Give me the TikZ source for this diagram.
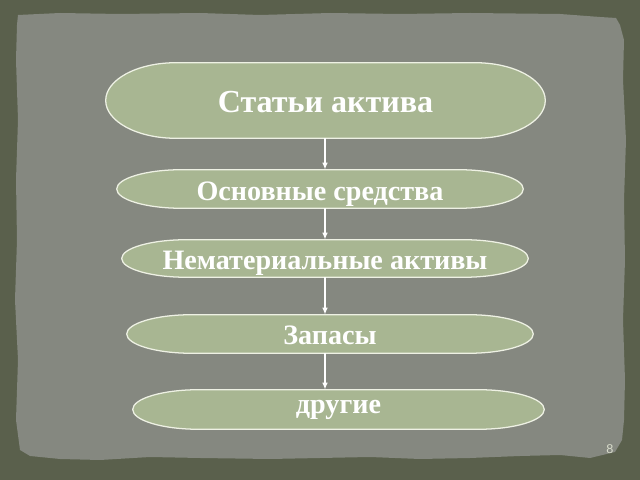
\documentclass[tikz,border=0pt]{standalone}
\usepackage{fontspec}
\setmainfont{Liberation Serif}
\setsansfont{Liberation Sans}
\usetikzlibrary{backgrounds,calc,arrows.meta}
\definecolor{frameolive}{HTML}{5A604C}
\definecolor{panelgrey}{HTML}{858880}
\definecolor{termfill}{HTML}{A8B692}
\definecolor{termedge}{HTML}{EEF1E4}
\definecolor{pagegrey}{HTML}{D8DCCB}
\tikzset{
  term/.style={minimum width=#1*0.025cm, inner sep=0pt, text=white, text depth=0pt,
    font=\bfseries\fontsize{20}{24}\selectfont},
  termline/.style={fill=termfill, draw=termedge, line width=0.9pt},
  link/.style={draw=white, line width=1pt, -{Latex[length=5pt,width=4pt,fill=white]}}
}

\begin{document}
\begin{tikzpicture}[x=0.025cm,y=0.025cm]
\useasboundingbox (0,0) rectangle (640,480);
%\draw[help lines,step=20] (0,0) grid (640,480);
\node (stat) [term=439, minimum height=75*0.025cm, font=\bfseries\fontsize{22.8}{27}\selectfont] at (325.5,379.5) {\raisebox{-2.5pt}{Статьи актива}};
\node (osn) [term=406, minimum height=38*0.025cm] at (320,291) {\raisebox{-3pt}{Основные средства}};
\node (nem) [term=406, minimum height=37*0.025cm] at (325,221.5) {\raisebox{-2.5pt}{Нематериальные активы}};
\node (zap) [term=406, minimum height=38*0.025cm] at (330,146) {\raisebox{-1.5pt}{Запасы}};
\node (dr) [term=411, minimum height=39*0.025cm] at (338.5,70.5) {\raisebox{4pt}{другие}};
\node (page) [text=pagegrey, font=\sffamily\fontsize{9}{10}\selectfont] at (610,31) {8};
\coordinate (axis) at (325,0);
\draw[link] (stat.south -| axis) -- (osn.north -| axis);
\draw[link] (osn.south -| axis) -- (nem.north -| axis);
\draw[link] (nem.south -| axis) -- (zap.north -| axis);
\draw[link] (zap.south -| axis) -- (dr.north -| axis);
\begin{scope}[on background layer]
\fill[frameolive] (0,0) rectangle (640,480);
\fill[panelgrey] (18,465) -- (60,467) -- (120,466) -- (200,467) -- (260,465) -- (330,467)
  -- (400,466) -- (470,467) -- (560,466) -- (600,463) -- (616,462) -- (620,455)
  -- (624,440) -- (623,400) -- (626,340) -- (624,280) -- (625,220) -- (623,160)
  -- (625,100) -- (624,60) -- (622,40) -- (615,28) -- (590,22) -- (560,25)
  -- (520,24) -- (470,22) -- (420,21) -- (370,23) -- (320,22) -- (270,21)
  -- (200,22) -- (150,23) -- (100,20) -- (60,21) -- (30,24) -- (20,30)
  -- (16,60) -- (18,120) -- (15,180) -- (17,240) -- (16,300) -- (18,360)
  -- (16,420) -- (17,455) -- cycle;
\foreach \nm/\r in {stat/70,osn/65,nem/65,zap/65,dr/66}
  \path[termline] let \p1=(\nm.north), \p2=(\nm.south) in
  ([xshift=\r*0.025cm]\nm.north west) -- ([xshift=-\r*0.025cm]\nm.north east)
  arc[start angle=90, end angle=-90, x radius=\r*0.025cm, y radius={(\y1-\y2)/2}]
  -- ([xshift=\r*0.025cm]\nm.south west)
  arc[start angle=270, end angle=90, x radius=\r*0.025cm, y radius={(\y1-\y2)/2}]
  -- cycle;
\end{scope}
\end{tikzpicture}
\end{document}
